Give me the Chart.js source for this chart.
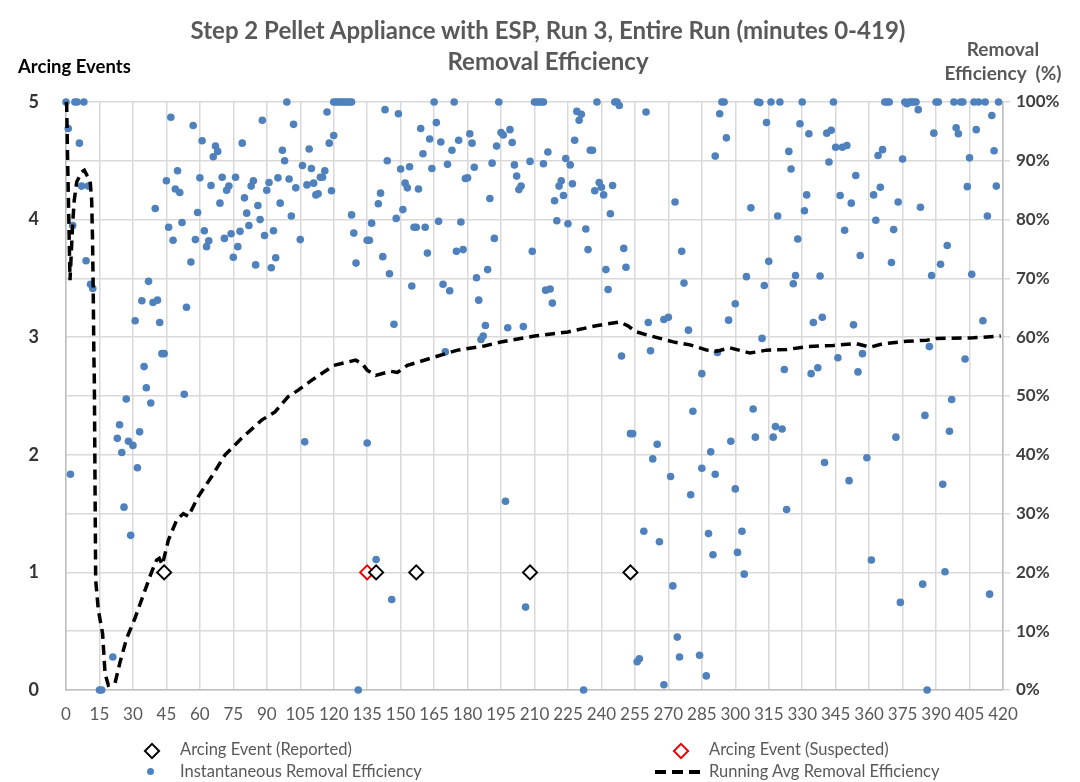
<!DOCTYPE html>
<html>
<head>
<meta charset="utf-8">
<script src="https://cdn.jsdelivr.net/npm/chart.js@4.4.1/dist/chart.umd.min.js"></script>
<style>
  body { margin: 0; background: #fff; }
  #wrap { position: relative; width: 1080px; height: 782px; font-family: Lato, "Open Sans", sans-serif; }
  #chart { position: absolute; left: 0; top: 0; }
  .txt { position: absolute; white-space: nowrap; }
  .title { left: 0; width: 1096px; text-align: center; font-weight: bold; font-size: 24px; color: #595959; }
  .leg { position: absolute; font-size: 16.5px; color: #595959; white-space: nowrap; }
  .mk { position: absolute; }
</style>
</head>
<body>
<div id="wrap">
  <canvas id="chart" width="1080" height="782"></canvas>
  <div class="txt title" style="top:15px;">Step 2 Pellet Appliance with ESP, Run 3, Entire Run (minutes 0-419)</div>
  <div class="txt title" style="top:46px;">Removal Efficiency</div>
  <div class="txt" style="left:18px; top:55px; font-size:18.5px; font-weight:bold; color:#000;">Arcing Events</div>
  <div class="txt" style="left:935px; top:37px; width:136px; text-align:center; font-size:19px; font-weight:bold; color:#595959; line-height:24px;">Removal<br>Efficiency&nbsp;&nbsp;(%)</div>

  <div class="mk" style="left:146px; top:745px; width:8px; height:8px; border:2px solid #000; background:#fff; transform:rotate(45deg);"></div>
  <div class="leg" style="left:180px; top:739px;">Arcing Event (Reported)</div>
  <div class="mk" style="left:675px; top:745px; width:8px; height:8px; border:2px solid #e00; background:#fff; transform:rotate(45deg);"></div>
  <div class="leg" style="left:709px; top:739px;">Arcing Event (Suspected)</div>
  <div class="mk" style="left:147px; top:768px; width:7px; height:7px; border-radius:50%; background:#4f81bd;"></div>
  <div class="leg" style="left:180px; top:761px;">Instantaneous Removal Efficiency</div>
  <svg class="mk" style="left:655px; top:769px;" width="46" height="6"><line x1="0" y1="3" x2="46" y2="3" stroke="#000" stroke-width="4" stroke-dasharray="11,6"/></svg>
  <div class="leg" style="left:709px; top:761px;">Running Avg Removal Efficiency</div>
</div>
<script>
// minutes / removal efficiency (%)
const effMinutes = [
  0, 4, 5, 8, 1, 6, 7, 10, 3, 9, 11, 12,
  47, 57, 61, 67, 68, 66, 79, 88, 99, 102, 97, 98, 109, 106, 110,
  45, 50, 49, 51, 40, 46, 48, 52, 59, 60, 65, 70, 76, 73, 72, 69, 80, 81, 83, 84, 86, 87, 90, 91, 95, 96, 100, 103, 108, 101, 105, 112,
  62, 58, 64, 63, 71, 74, 78, 77, 82, 89, 93, 75, 56, 85, 94, 92,
  37, 34, 39, 41, 31, 42, 54, 43, 44, 35, 36,
  27, 38, 53, 24, 33, 23, 28, 30, 25, 32, 2, 26, 29, 107, 21, 15, 16,
  120, 121, 122, 123, 124, 125, 126, 127, 128,
  165, 174, 194, 210, 211, 212, 213, 214, 238, 246, 247, 248,
  117, 143, 149, 166, 159, 163, 168, 176, 181, 182, 173, 160, 120, 118, 195, 196, 199, 200, 193, 216, 229, 231, 230, 228, 235, 236, 260,
  111, 113, 114, 115, 116, 119, 128, 129, 130, 135, 136, 137, 140, 141, 144, 150, 154, 152, 153, 158, 151, 148, 142, 145, 155, 147,
  156, 157, 161, 162, 164, 167, 169, 172, 171, 177, 175, 178, 179, 180, 183, 191, 190, 192, 184, 189, 185, 188, 186, 187, 170, 198, 205,
  201, 202, 203, 204, 208, 214, 209, 215, 217, 218, 220, 219, 222, 221, 223, 224, 226, 227, 225, 233, 234, 237, 239, 240, 241, 245, 244,
  250, 251, 242, 243, 249, 261, 262,
  135, 197, 253, 254, 263, 259, 139, 146, 206, 131, 232, 256, 257,
  268, 270, 273, 276, 277, 279, 285, 291, 293, 294, 295, 296, 292, 297, 300, 305, 307, 310, 311, 312, 313, 314, 315, 316, 319, 320,
  322, 324, 325, 326, 327, 328, 329, 330, 331, 332, 333, 335, 334, 337, 338, 339, 341, 343, 342, 344, 345, 348, 350, 346, 347, 349,
  352, 353, 354, 355, 356, 357, 362, 363, 364, 366, 365, 367, 368, 369, 370, 371, 373, 375, 376, 377, 378, 379, 380, 381, 382, 383,
  387, 388, 389, 390, 391, 392, 395, 398, 399, 400, 401, 402, 403, 404, 405, 406, 407, 409, 408, 411, 412, 413, 415, 416, 417, 418,
  265, 266, 268, 271, 272, 274, 275, 280, 281, 284, 285, 287, 288, 289, 290, 291, 298, 300, 301, 303, 304, 308, 309, 317, 318, 321,
  323, 340, 351, 359, 361, 372, 374, 384, 385, 386, 393, 394, 396, 397, 414
];
const effValues = [
  100, 100, 100, 100, 95.5, 93, 85.7, 85.7, 79, 73, 69, 68.3,
  97.4, 96, 93.4, 92.5, 91.6, 90.7, 93, 96.9, 100, 96.2, 91.8, 90, 92, 89.2, 88.7,
  86.6, 88.3, 85.2, 84.6, 81.9, 78.7, 76.5, 79.5, 81.2, 87.1, 85.8, 87.2, 87.2, 85.7, 85, 82.8, 83.7, 81.1, 85.7, 86.6, 82.4, 80, 85, 86.3, 87.1, 82.8, 86.9, 85.4, 85.9, 80.6, 76.6, 84.2,
  78.1, 76.6, 76.4, 75.4, 76.8, 77.6, 78, 75.4, 79, 77.3, 78.1, 73.6, 72.8, 72.3, 73.5, 71.8,
  69.5, 66.2, 65.9, 66.3, 62.8, 62.5, 65.1, 57.2, 57.2, 55, 51.4,
  49.5, 48.8, 50.3, 45.1, 43.9, 42.8, 42.3, 41.6, 40.4, 37.8, 36.7, 31.1, 26.3, 42.2, 5.6, 0, 0,
  100, 100, 100, 100, 100, 100, 100, 100, 100,
  100, 100, 100, 100, 100, 100, 100, 100, 100, 100, 100, 99.4,
  98.3, 98.7, 98, 96.5, 95.5, 93.7, 93.2, 93.5, 94.6, 93, 91.8, 91.2, 94.3, 93, 94.8, 94.4, 95.3, 93.1, 92.5, 91.5, 98.4, 97.9, 96.9, 93.5, 91.8, 91.8, 98.3,
  86.2, 84.4, 87.2, 87.2, 88.3, 84.9, 80.8, 77.7, 72.6, 76.5, 76.5, 79.4, 82.7, 84.5, 90, 88.6, 89, 86.2, 85.4, 85.2, 81.7, 80.2, 73.7, 70.8, 68.7, 62.2,
  78.7, 78.7, 78.7, 74.3, 88.7, 79.7, 69, 67.9, 89.4, 79.6, 74.6, 74.9, 87, 87.1, 88.9, 89.6, 83.6, 76.8, 70.1, 71.5, 66.3, 62, 59.6, 60.2, 57.5, 61.6, 61.8,
  89.3, 87.4, 85.1, 85.7, 89.9, 89.5, 74.6, 68, 68.2, 65.8, 79.8, 83.2, 86.6, 85.7, 84.1, 90.4, 89.3, 86.1, 79.3, 78.4, 74.9, 84.9, 86.3, 85.5, 84.2, 85.8, 81,
  75.1, 71.9, 71.5, 68.1, 56.8, 62.5, 57.7,
  42, 32.1, 43.6, 43.6, 39.3, 27, 22.2, 15.4, 14.1, 0, 0, 4.8, 5.3,
  63, 63.4, 83, 74.6, 69.2, 61.2, 53.8, 90.8, 98, 100, 100, 93.9, 57.4, 62.9, 65.7, 70.3, 82, 100, 99.9, 59.8, 68.8, 96.5, 72.9, 100, 80.6, 100,
  54.5, 91.6, 88.6, 69.1, 70.5, 76.7, 96.3, 100, 81.5, 84.2, 94.6, 62.5, 53.8, 54.8, 70.4, 63.4, 94.7, 95.2, 89.8, 100, 92.3, 92.3, 92.6, 56.5, 84.1, 78.2,
  82.8, 62.1, 87.5, 54.1, 73.9, 57.2, 84.2, 79.9, 90.9, 91.9, 85.5, 100, 100, 100, 72.7, 78.3, 83, 90.3, 100, 99.7, 100, 100, 100, 100, 98.7, 82.1,
  58.4, 70.5, 94.7, 100, 100, 72.4, 75.6, 100, 95.6, 94.6, 100, 100, 56.3, 85.6, 90.5, 70.7, 100, 100, 95.3, 62.8, 100, 80.6, 97.7, 91.7, 85.7, 100,
  41.8, 25.2, 0.9, 36.3, 17.7, 9, 5.6, 33.2, 47.4, 5.9, 37.7, 2.4, 26.6, 40.5, 23, 36.7, 42.3, 34.2, 23.4, 27, 19.7, 47.8, 43, 43, 44.8, 44.4,
  30.7, 38.7, 35.6, 39.5, 22.1, 43, 14.9, 18, 46.7, 0, 35, 20.1, 44, 49.4, 16.3
];

// running average (%)
const avgMinutes = [
  0, 0.3, 0.7, 1.3, 1.8, 2.5, 3.0, 3.7, 4.8, 7.0, 8.2, 9.3, 10.8, 11.5, 11.9, 12.2, 12.5, 12.7, 13.0, 13.3,
  14.5, 16.4, 17.5, 19.0, 22.0, 24.2, 27.2, 30.9, 34.7, 38.4, 40.6, 41.8, 43.2, 45.9, 49.6, 52.6, 54.8,
  59.3, 65.3, 71.3, 78.7, 87.7, 93.7, 99.6, 104.1, 111, 120, 129.8, 132.8, 135, 138.8, 145.5, 148.5,
  153, 165, 175.5, 187.5, 195, 210, 225, 237, 248.3, 252, 255, 260.3, 266.3, 272.2, 279.7, 287.2,
  291.7, 297.6, 306.6, 314.1, 323.1, 332, 344, 354.4, 360.4, 366.4, 376.8, 385.8, 390.3, 406.7, 419
];
const avgValues = [
  100, 99.5, 90.7, 79.4, 69.7, 75.4, 79.4, 83.3, 86.4, 88.1, 88.4, 87.6, 86.7, 83.3, 76.5, 68.0, 56.7, 52.7, 35.7, 18.7,
  13.6, 9.6, 2.8, 0.8, 1.2, 4.7, 8.8, 12.2, 16.2, 20.1, 22.1, 22.4, 21.3, 25.5, 28.9, 30.0, 29.5,
  32.9, 36.3, 40.0, 42.8, 45.9, 47.3, 49.9, 51.0, 52.9, 55.2, 56.1, 55.5, 54.4, 53.5, 54.2, 54.0,
  55.2, 56.6, 57.8, 58.5, 59.2, 60.2, 60.9, 61.9, 62.6, 61.9, 61.0, 60.4, 59.8, 59.2, 58.7, 57.8,
  57.6, 58.2, 57.3, 57.8, 57.9, 58.4, 58.6, 58.9, 58.3, 58.9, 59.3, 59.5, 59.8, 59.9, 60.2
];

// arcing events (count)
const arcReportedMin = [44, 139, 157, 208, 253];
const arcReportedCount = [1, 1, 1, 1, 1];
const arcSuspectedMin = [135];
const arcSuspectedCount = [1];

function pts(xs, ys) {
  return xs.map(function (x, i) { return { x: x, y: ys[i] }; });
}

const tickFont = { family: 'Lato', size: 17 };

new Chart(document.getElementById('chart'), {
  type: 'scatter',
  data: {
    datasets: [
      {
        label: 'Arcing Event (Reported)',
        data: pts(arcReportedMin, arcReportedCount),
        yAxisID: 'yL',
        pointStyle: 'rectRot',
        pointRadius: 7,
        borderColor: '#000',
        backgroundColor: '#fff',
        pointBorderWidth: 2,
        order: 1,
        clip: false
      },
      {
        label: 'Arcing Event (Suspected)',
        data: pts(arcSuspectedMin, arcSuspectedCount),
        yAxisID: 'yL',
        pointStyle: 'rectRot',
        pointRadius: 7,
        borderColor: '#e00',
        backgroundColor: '#fff',
        pointBorderWidth: 2,
        order: 2,
        clip: false
      },
      {
        label: 'Instantaneous Removal Efficiency',
        data: pts(effMinutes, effValues),
        yAxisID: 'yR',
        pointRadius: 3.8,
        borderWidth: 0,
        backgroundColor: '#4f81bd',
        order: 4,
        clip: false
      },
      {
        label: 'Running Avg Removal Efficiency',
        type: 'line',
        data: pts(avgMinutes, avgValues),
        yAxisID: 'yR',
        borderColor: '#000',
        borderWidth: 3.5,
        borderDash: [10, 6],
        pointRadius: 0,
        fill: false,
        tension: 0,
        order: 3,
        clip: false
      }
    ]
  },
  options: {
    responsive: false,
    animation: false,
    layout: { padding: { top: 102, left: 0, right: 0, bottom: 0 } },
    plugins: { legend: { display: false }, tooltip: { enabled: false } },
    scales: {
      x: {
        type: 'linear',
        min: 0,
        max: 420,
        afterFit: function (s) { s.height = 92; },
        ticks: { stepSize: 15, autoSkip: false, maxRotation: 0, padding: 14, color: '#595959', font: tickFont },
        grid: { color: '#d9d9d9', lineWidth: 1.5, drawTicks: false },
        border: { color: '#bfbfbf', width: 1.5 }
      },
      yL: {
        position: 'left',
        min: 0,
        max: 5,
        afterFit: function (s) { s.width = 66; },
        ticks: { stepSize: 1, padding: 19, color: '#333', font: { family: 'Lato', size: 18, weight: 'bold' } },
        grid: { display: false },
        border: { color: '#bfbfbf', width: 1.5 }
      },
      yR: {
        position: 'right',
        min: 0,
        max: 100,
        afterFit: function (s) { s.width = 77; },
        ticks: {
          stepSize: 10,
          padding: 6,
          color: '#404040',
          font: { family: 'Lato', size: 17, weight: 'bold' },
          callback: function (v) { return v + '%'; }
        },
        grid: { color: '#d9d9d9', lineWidth: 1.5, drawTicks: true, tickLength: 7 },
        border: { color: '#bfbfbf', width: 1.5 }
      }
    }
  }
});
</script>
</body>
</html>
